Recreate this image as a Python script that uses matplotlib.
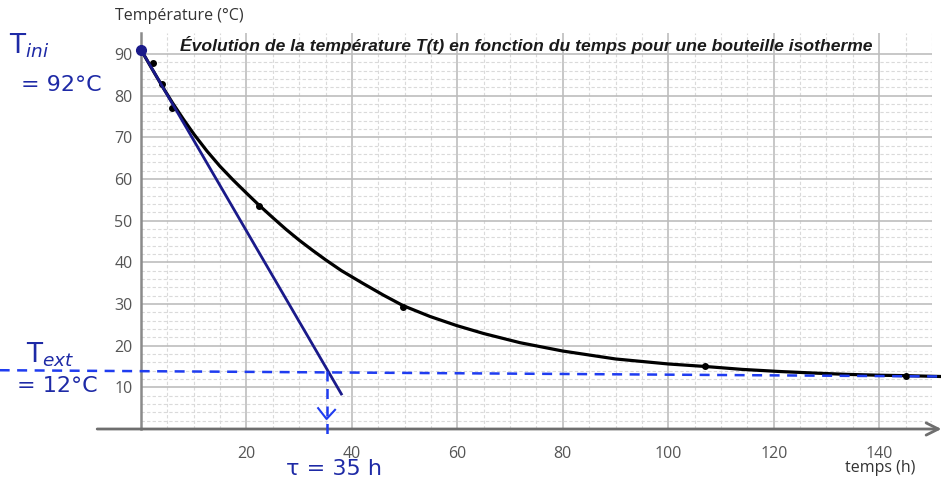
import matplotlib.pyplot as plt

# curve (temperature vs time)
curve_t = [0, 2, 4, 6, 8, 10, 12.5, 15, 17.5, 20, 22.3, 25, 27.5, 30, 32.5, 35, 38,
           42, 46, 49.7, 54.8, 59.9, 65, 71.9, 80, 90, 100, 107, 114, 121, 128, 134,
           140, 145, 151.5]
curve_T = [91, 86.6, 82.3, 78.2, 74.4, 70.8, 66.7, 63.0, 59.7, 56.6, 53.8, 50.7, 47.9,
           45.3, 42.9, 40.6, 38.0, 35.0, 32.1, 29.6, 27.0, 24.8, 22.9, 20.7, 18.7,
           16.8, 15.6, 15.0, 14.3, 13.8, 13.4, 13.1, 12.9, 12.8, 12.6]

# measured points
pts_t = [2.2, 3.9, 5.8, 22.3, 49.7, 107, 145]
pts_T = [87.9, 82.7, 77.1, 53.4, 29.2, 15, 12.8]

# hand drawn tangent at t=0
tan_t = [0, 38]
tan_T = [91, 8.4]

# hand drawn dashed lines (T_ext and tau)
text_t = [-26.8, 151.8]
text_T = [14.1, 12.6]
tau_t = [35.2, 35.2]
tau_T = [14.0, -2.1]
arrow_t = [33.6, 35.2, 36.8]
arrow_T = [5.0, 2.4, 4.6]

x_labels = [20, 40, 60, 80, 100, 120, 140]
y_labels = [10, 20, 30, 40, 50, 60, 70, 80, 90]

ink = '#1e2aa6'
navy = '#1a1a8a'
dash_blue = '#1f3cf0'

fig = plt.figure(figsize=(9.41, 4.83), dpi=100)
ax = fig.add_axes([0.1498, 0.1118, 0.8406, 0.8199])
ax.set_xlim(0, 150)
ax.set_ylim(0, 95)

ax.set_xticks(x_labels)
ax.set_xticks([v for v in range(5, 151, 5) if v % 20 != 0], minor=True)
ax.set_yticks(y_labels)
ax.set_yticks([v for v in range(2, 90, 2) if v % 10 != 0], minor=True)
ax.grid(which='major', color='#bdbdbd', lw=1.2)
ax.grid(which='minor', color='#dadada', lw=0.8, ls=(0, (3, 2)))
ax.set_axisbelow(True)
ax.tick_params(which='both', length=0)
ax.tick_params(axis='y', pad=6, labelcolor='#555555', labelsize=11.5)
ax.tick_params(axis='x', pad=12, labelcolor='#555555', labelsize=11.5)
for lab in ax.get_xticklabels() + ax.get_yticklabels():
    lab.set_family('Open Sans')

for s in ['top', 'right', 'bottom']:
    ax.spines[s].set_visible(False)
ax.spines['left'].set_color('#8a8a8a')
ax.spines['left'].set_linewidth(1.8)

# x axis with arrow
ax.annotate('', xy=(151.8, 0), xytext=(-8.3, 0), xycoords='data',
            arrowprops=dict(arrowstyle='->', color='#6e6e6e', lw=2,
                            mutation_scale=22, shrinkA=0, shrinkB=0),
            annotation_clip=False)

ax.plot(curve_t, curve_T, color='black', lw=2.3, clip_on=False, zorder=4,
        solid_joinstyle='round')
ax.plot(pts_t, pts_T, 'o', color='black', ms=4, zorder=5)

ax.plot(tan_t, tan_T, color=navy, lw=2, zorder=6)
ax.plot([tan_t[0]], [tan_T[0]], 'o', color=navy, ms=7, clip_on=False, zorder=7)
ax.plot(text_t, text_T, color=dash_blue, lw=1.8, ls=(0, (4, 3)), clip_on=False, zorder=6)
ax.plot(tau_t, tau_T, color=dash_blue, lw=1.8, ls=(0, (4, 3)), clip_on=False, zorder=6)
ax.plot(arrow_t, arrow_T, color=dash_blue, lw=1.5, zorder=6)

fig.text(0.1905, 0.967, 'Température (°C)', fontsize=11.5, family='Open Sans',
         color='#333333', ha='center', va='center')
fig.text(0.5595, 0.906, 'Évolution de la température T(t) en fonction du temps pour une bouteille isotherme',
         fontsize=12.6, family='Liberation Sans', weight='bold', style='italic',
         color='#1a1a1a', ha='center', va='center')
fig.text(0.935, 0.031, 'temps (h)', fontsize=11.5, family='Open Sans',
         color='#333333', ha='center', va='center')

# handwritten notes
fig.text(0.010, 0.905, 'T$_{ini}$', fontsize=19, color=ink, ha='left', va='center')
fig.text(0.022, 0.825, '= 92°C', fontsize=16, color=ink, ha='left', va='center')
fig.text(0.028, 0.265, 'T$_{ext}$', fontsize=19, color=ink, ha='left', va='center')
fig.text(0.018, 0.200, '= 12°C', fontsize=16, color=ink, ha='left', va='center')
fig.text(0.304, 0.030, 'τ = 35 h', fontsize=16, color=ink, ha='left', va='center')

fig.savefig('out.png', dpi=100)
